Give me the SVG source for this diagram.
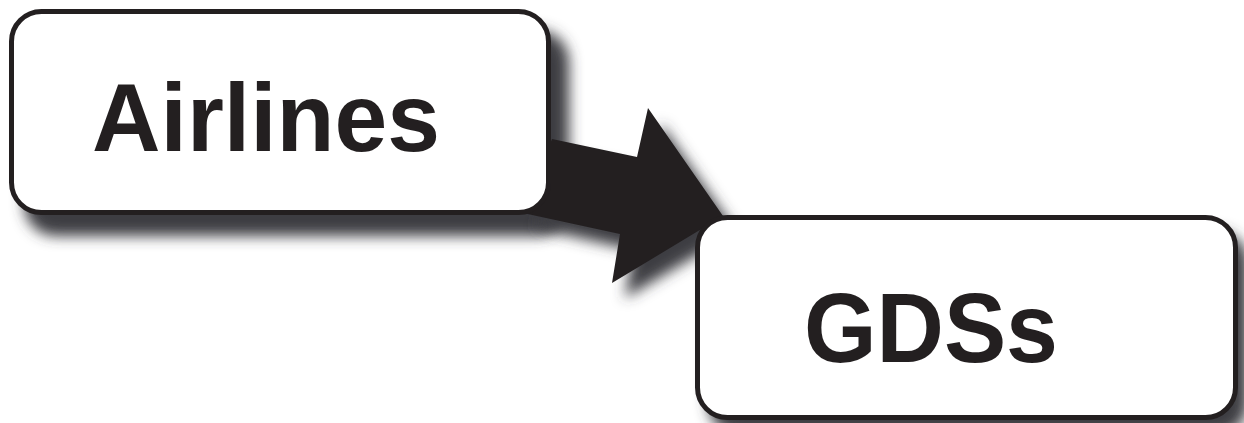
<svg xmlns="http://www.w3.org/2000/svg" width="1244" height="423" viewBox="0 0 1244 423">
<defs>
<filter id="sh" x="-20%" y="-20%" width="140%" height="150%">
<feGaussianBlur stdDeviation="7"/>
</filter>
<style>
.box{fill:#ffffff;stroke:#231f20;stroke-width:5}
.shadow{fill:#3e3e42;filter:url(#sh)}
.lbl{font-family:"Liberation Sans",Arial,sans-serif;font-weight:bold;fill:#231f20}
</style>
</defs>
<g id="shadows">
<rect class="shadow" x="24" y="30" width="545" height="206" rx="32"/>
<path class="shadow" d="M536,228 L633,250 L625,298 L736,232 L661,124 L650,173 L565,155 Z"/>
<rect class="shadow" x="708" y="231" width="540" height="204" rx="32"/>
</g>
<g id="connectors">
<path d="M523,213 L620,234 L612,283 L723,216 L648,108 L637,157 L552,139 Z" fill="#231f20"/>
</g>
<g id="airlines">
<rect class="box" x="11.5" y="11.5" width="537" height="201" rx="30"/>
<text class="lbl" x="92" y="151" font-size="96" textLength="348" lengthAdjust="spacingAndGlyphs">Airlines</text>
</g>
<g id="gdss">
<rect class="box" x="697.5" y="217.5" width="538" height="200" rx="30"/>
<text class="lbl" x="804" y="362" font-size="98" textLength="254" lengthAdjust="spacingAndGlyphs">GDSs</text>
</g>
</svg>
